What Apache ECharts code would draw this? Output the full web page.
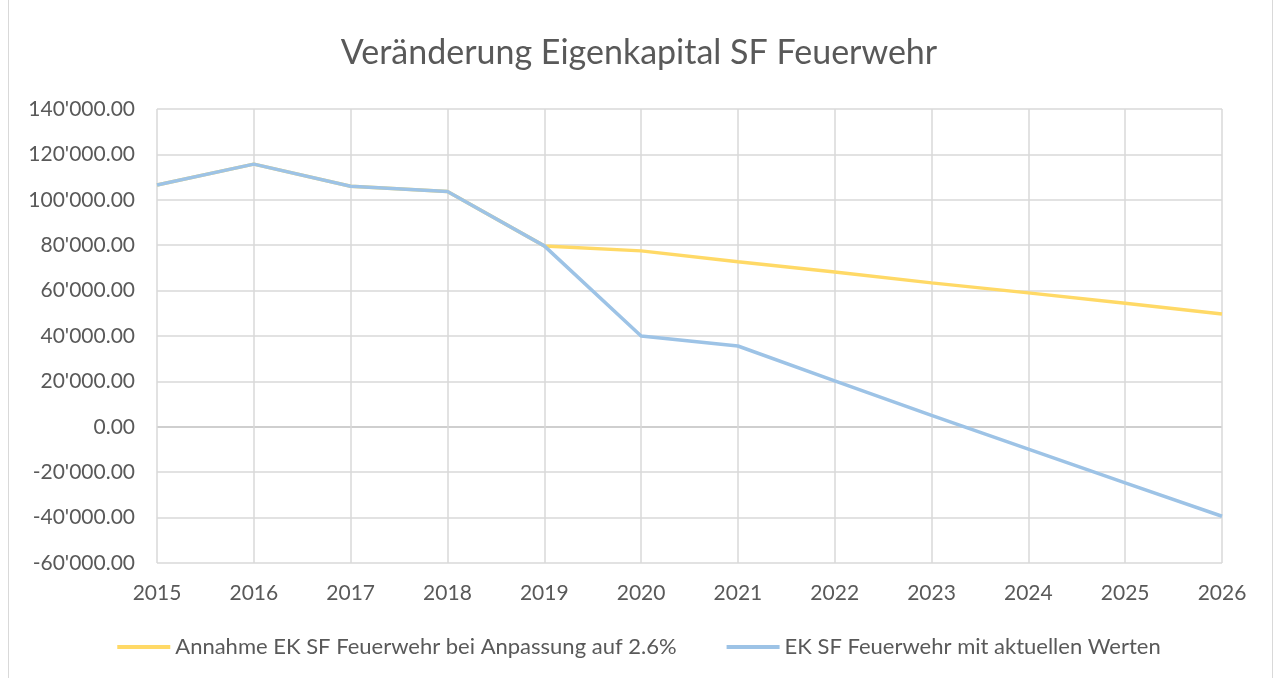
<!DOCTYPE html>
<html>
<head>
<meta charset="utf-8">
<script src="https://cdn.jsdelivr.net/npm/echarts@6/dist/echarts.min.js"></script>
<style>
  html, body { margin: 0; padding: 0; background: #fff; }
  #frame {
    position: absolute; left: 8px; top: 0px; width: 1265px; height: 678px;
    border-left: 1px solid #d9d9d9; border-right: 1px solid #d9d9d9; box-sizing: border-box;
  }
  #chartId { width: 1278px; height: 678px; position: absolute; left: 0; top: 0; }
</style>
</head>
<body>
<div id="frame"></div>
<div id="chartId"></div>
<script>
// Jahre
const years = ["2015", "2016", "2017", "2018", "2019", "2020", "2021", "2022", "2023", "2024", "2025", "2026"];
// Annahme EK SF Feuerwehr bei Anpassung auf 2.6%
const ekAnpassung = [106500, 115700, 106000, 103700, 79700, 77500, 72700, 68200, 63400, 59000, 54400, 49700];
// EK SF Feuerwehr mit aktuellen Werten
const ekAktuell = [106500, 115700, 106000, 103700, 79700, 40000, 35600, 20200, 5000, -9800, -24700, -39400];
// y-Achse
const yMin = -60000;
const yMax = 140000;
const yStep = 20000;

const textColor = "#595959";
const gridColor = "#d9d9d9";
const fontFam = "Lato, 'Noto Sans', sans-serif";

// Trennlinien: die Null-Linie etwas dunkler
let splitColors = [];
for (let v = yMin; v <= yMax; v += yStep) {
  splitColors.push(v === 0 ? "#bfbfbf" : gridColor);
}

let fmt = (v) => {
  let neg = v < 0;
  let s = Math.abs(v).toFixed(2);
  let parts = s.split(".");
  let intPart = parts[0].replace(/\B(?=(\d{3})+(?!\d))/g, "'");
  return (neg ? "-" : "") + intPart + "." + parts[1];
};

let chart = echarts.init(document.getElementById("chartId"));
let option = {
  animation: false,
  title: {
    text: "Veränderung Eigenkapital SF Feuerwehr",
    left: "center",
    top: 31,
    textStyle: { color: textColor, fontSize: 34, fontWeight: "normal", fontFamily: fontFam },
  },
  legend: {
    bottom: 15,
    left: "center",
    itemWidth: 53,
    itemHeight: 4,
    itemGap: 50,
    icon: "rect",
    textStyle: { color: textColor, fontSize: 22, fontFamily: fontFam },
    data: ["Annahme EK SF Feuerwehr bei Anpassung auf 2.6%", "EK SF Feuerwehr mit aktuellen Werten"],
  },
  grid: { left: 157, right: 56, top: 109, bottom: 115, containLabel: false },
  xAxis: {
    type: "category",
    data: years,
    boundaryGap: false,
    axisLine: { show: false },
    axisTick: { show: false },
    axisLabel: { color: textColor, fontSize: 21, fontFamily: fontFam, margin: 20 },
    splitLine: { show: true, lineStyle: { color: gridColor, width: 1.5 } },
  },
  yAxis: {
    type: "value",
    min: yMin,
    max: yMax,
    interval: yStep,
    axisLine: { show: false },
    axisTick: { show: false },
    axisLabel: { color: textColor, fontSize: 21, fontFamily: fontFam, margin: 22, formatter: fmt },
    splitLine: { show: true, lineStyle: { color: splitColors, width: 1.5 } },
  },
  series: [
    {
      name: "Annahme EK SF Feuerwehr bei Anpassung auf 2.6%",
      type: "line",
      data: ekAnpassung,
      symbol: "none",
      color: "#ffd966",
      lineStyle: { width: 3.5, color: "#ffd966" },
      z: 2,
    },
    {
      name: "EK SF Feuerwehr mit aktuellen Werten",
      type: "line",
      data: ekAktuell,
      symbol: "none",
      color: "#9dc3e6",
      lineStyle: { width: 3.5, color: "#9dc3e6" },
      z: 3,
    },
  ],
};
chart.setOption(option);
</script>
</body>
</html>
